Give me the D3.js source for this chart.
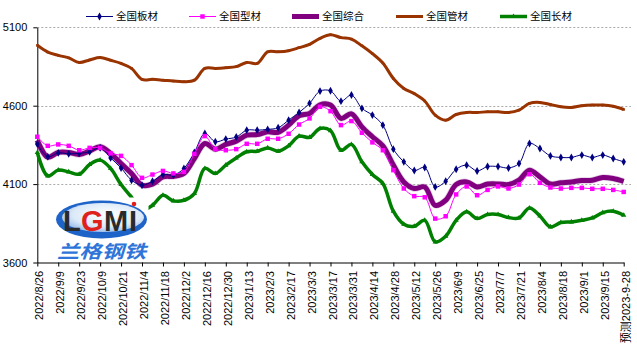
<!DOCTYPE html>
<html>
<head>
<meta charset="utf-8">
<script src="https://cdn.jsdelivr.net/npm/d3@7"></script>
<style>
  body { margin: 0; background: #fff; }
  text { font-family: "Liberation Sans", Arial, "Noto Sans CJK SC", sans-serif; }
</style>
</head>
<body>
<div id="container"></div>
<script>
let w = 637;
let h = 351;

// weekly categories, every second one is labelled
let categories = [
  "2022/8/26", "2022/9/2", "2022/9/9", "2022/9/16", "2022/9/23", "2022/9/30",
  "2022/10/9", "2022/10/14", "2022/10/21", "2022/10/28", "2022/11/4", "2022/11/11",
  "2022/11/18", "2022/11/25", "2022/12/2", "2022/12/9", "2022/12/16", "2022/12/23",
  "2022/12/30", "2023/1/6", "2023/1/13", "2023/1/20", "2023/2/3", "2023/2/10",
  "2023/2/17", "2023/2/24", "2023/3/3", "2023/3/10", "2023/3/17", "2023/3/24",
  "2023/3/31", "2023/4/7", "2023/4/14", "2023/4/21", "2023/4/28", "2023/5/5",
  "2023/5/12", "2023/5/19", "2023/5/26", "2023/6/2", "2023/6/9", "2023/6/16",
  "2023/6/25", "2023/6/30", "2023/7/7", "2023/7/14", "2023/7/21", "2023/7/28",
  "2023/8/4", "2023/8/11", "2023/8/18", "2023/8/25", "2023/9/1", "2023/9/8",
  "2023/9/15", "2023/9/22", "预测2023-9-28"
];

let banCai = [4355, 4275, 4299, 4293, 4296, 4306, 4331, 4267, 4203, 4125, 4093, 4118, 4161, 4157, 4200,
  4302, 4423, 4370, 4387, 4400, 4444, 4444, 4449, 4459, 4508, 4557, 4615, 4693, 4695, 4629,
  4668, 4583, 4540, 4476, 4323, 4242, 4187, 4206, 4082, 4118, 4195, 4221, 4184, 4212, 4212,
  4203, 4231, 4359, 4327, 4280, 4270, 4270, 4285, 4270, 4285, 4263, 4242];

let xingCai = [4402, 4344, 4353, 4344, 4316, 4331, 4331, 4296, 4280, 4221, 4140, 4161, 4184, 4168, 4178,
  4293, 4406, 4323, 4316, 4323, 4357, 4357, 4389, 4389, 4421, 4480, 4519, 4593, 4565, 4476,
  4502, 4427, 4366, 4316, 4189, 4072, 4023, 4016, 3880, 3895, 4034, 4085, 4029, 4063, 4085,
  4072, 4097, 4163, 4108, 4078, 4072, 4076, 4076, 4070, 4070, 4063, 4050];

let zongHe = [4380, 4272, 4302, 4302, 4289, 4312, 4338, 4296, 4231, 4168, 4093, 4100, 4146, 4150, 4168,
  4263, 4359, 4323, 4353, 4374, 4412, 4416, 4433, 4430, 4476, 4536, 4551, 4606, 4604, 4519,
  4548, 4465, 4402, 4344, 4221, 4114, 4072, 4082, 3965, 3997, 4097, 4114, 4082, 4100, 4101,
  4097, 4125, 4189, 4146, 4101, 4108, 4114, 4123, 4125, 4142, 4136, 4118];

let guanCai = [4985, 4942, 4921, 4905, 4876, 4892, 4907, 4890, 4870, 4838, 4768, 4768, 4763, 4757, 4753,
  4763, 4838, 4838, 4842, 4849, 4876, 4870, 4944, 4944, 4951, 4970, 4991, 5030, 5053, 5034,
  5025, 4982, 4932, 4872, 4774, 4710, 4677, 4630, 4540, 4508, 4544, 4557, 4557, 4561, 4561,
  4557, 4572, 4615, 4621, 4608, 4593, 4589, 4600, 4604, 4604, 4596, 4576];

let changCai = [4302, 4152, 4189, 4178, 4163, 4225, 4253, 4200, 4097, 4016, 3935, 3965, 4029, 3993, 3997,
  4040, 4200, 4168, 4221, 4267, 4306, 4310, 4331, 4310, 4344, 4406, 4398, 4455, 4441, 4316,
  4353, 4242, 4161, 4104, 3927, 3844, 3831, 3869, 3731, 3767, 3869, 3923, 3880, 3906, 3906,
  3887, 3884, 3948, 3897, 3827, 3855, 3859, 3869, 3884, 3918, 3927, 3901];

let yTicks = [3600, 4100, 4600, 5100];

let seriesNames = ["全国板材", "全国型材", "全国综合", "全国管材", "全国长材"];

let viz = d3.select("#container")
  .append("svg")
    .attr("width", w)
    .attr("height", h)
;

let xScale = d3.scalePoint().domain(categories).range([37.3, 623.7]);
let yScale = d3.scaleLinear().domain([3600, 5100]).range([262.5, 27.3]);

// dashed grid
viz.append("g").selectAll("line").data(yTicks.slice(1)).enter()
  .append("line")
    .attr("x1", 37.3)
    .attr("x2", 631)
    .attr("y1", function(d){ return Math.round(yScale(d)) + 0.5; })
    .attr("y2", function(d){ return Math.round(yScale(d)) + 0.5; })
    .attr("stroke", "#aaa")
    .attr("stroke-dasharray", "2,2")
;

// axes
let labelCats = categories.filter(function(d,i){ return i % 2 == 0; });
let xAxis = d3.axisBottom(xScale).tickValues(labelCats).tickSize(4).tickSizeOuter(0);
let xAxisGroup = viz.append("g").attr("class", "xaxis");
xAxisGroup.call(xAxis);
xAxisGroup.attr("transform", "translate(0,262.5)");
xAxisGroup.selectAll("text")
  .attr("transform", "rotate(-90)")
  .attr("x", -8.5)
  .attr("y", 0)
  .attr("dy", "0.5em")
  .attr("text-anchor", "end")
  .attr("font-size", "11px")
  .attr("fill", "#000")
  .attr("font-family", "'Liberation Sans', Arial, 'Noto Sans CJK SC', sans-serif")
;

let yAxis = d3.axisLeft(yScale).tickValues(yTicks).tickSize(4).tickSizeOuter(0).tickPadding(6).tickFormat(d3.format("d"));
let yAxisGroup = viz.append("g").attr("class", "yaxis");
yAxisGroup.call(yAxis);
yAxisGroup.attr("transform", "translate(37.3,0)");
yAxisGroup.selectAll("text")
  .attr("font-size", "11px")
  .attr("fill", "#000")
  .attr("font-family", "'Liberation Sans', Arial, sans-serif")
;
viz.selectAll(".domain, .tick line").attr("stroke", "#000");

// series
let series = [
  { name: seriesNames[2], values: zongHe,  color: "#800080", width: 5,   glow: true, symbol: null,               size: 0 },
  { name: seriesNames[3], values: guanCai, color: "#993300", width: 3,   glow: false, symbol: d3.symbolSquare,   size: 6 },
  { name: seriesNames[4], values: changCai,color: "#008000", width: 3.5, glow: false, symbol: d3.symbolTriangle, size: 12 },
  { name: seriesNames[0], values: banCai,  color: "#000080", width: 1,   glow: false, symbol: d3.symbolDiamond,  size: 18 },
  { name: seriesNames[1], values: xingCai, color: "#ff00ff", width: 1,   glow: false, symbol: d3.symbolSquare,   size: 20 }
];

let line = d3.line()
  .x(function(d,i){ return xScale(categories[i]); })
  .y(function(d,i){ return yScale(d); })
  .curve(d3.curveCatmullRom.alpha(0.5))
;

let vizGroups = viz.append("g").attr("class", "vizGroup");

series.forEach(function(s){
  if (s.glow) {
    vizGroups.append("path")
      .attr("d", line(s.values))
      .attr("fill", "none")
      .attr("stroke", "#a668a6")
      .attr("stroke-opacity", 0.3)
      .attr("stroke-width", s.width + 1.5)
      .attr("stroke-linejoin", "round")
    ;
  }
  vizGroups.append("path")
    .attr("d", line(s.values))
    .attr("fill", "none")
    .attr("stroke", s.color)
    .attr("stroke-width", s.width)
    .attr("stroke-linejoin", "round")
  ;
  if (s.symbol) {
    vizGroups.append("g").selectAll("path").data(s.values).enter()
      .append("path")
        .attr("d", d3.symbol().type(s.symbol).size(s.size))
        .attr("transform", function(d,i){
          return "translate(" + xScale(categories[i]) + "," + yScale(d) + ")";
        })
        .attr("fill", s.color)
    ;
  }
});

// watermark logo (white box hides lines behind it)
let logo = viz.append("g").attr("class", "logo");
let defs = viz.append("defs");
let grad = defs.append("radialGradient").attr("id", "logoGrad").attr("cx", "55%").attr("cy", "40%").attr("r", "60%");
grad.append("stop").attr("offset", "0%").attr("stop-color", "#ffffff");
grad.append("stop").attr("offset", "70%").attr("stop-color", "#dce9f8");
grad.append("stop").attr("offset", "100%").attr("stop-color", "#9fc0ea");

logo.append("rect")
  .attr("x", 53).attr("y", 197.5).attr("width", 95.5).attr("height", 64)
  .attr("fill", "#fff")
;
logo.append("ellipse")
  .attr("cx", 101.5).attr("cy", 219.5).attr("rx", 45.5).attr("ry", 19)
  .attr("fill", "#1e63c8")
;
logo.append("ellipse")
  .attr("cx", 103).attr("cy", 217.5).attr("rx", 41).attr("ry", 14.5)
  .attr("fill", "url(#logoGrad)")
;
let logoLetters = [
  { t: "L", x: 63,  c: "#2a2a2a" },
  { t: "G", x: 81,  c: "#e0201c" },
  { t: "M", x: 104, c: "#2a2a2a" },
  { t: "I", x: 129, c: "#2a2a2a" }
];
logo.selectAll(".logoLetter").data(logoLetters).enter()
  .append("text")
    .attr("class", "logoLetter")
    .attr("x", function(d){ return d.x; })
    .attr("y", 231)
    .attr("font-size", "29px")
    .attr("font-weight", "bold")
    .attr("fill", function(d){ return d.c; })
    .text(function(d){ return d.t; })
;
logo.append("circle").attr("cx", 134).attr("cy", 204).attr("r", 2.3).attr("fill", "#e0201c");
logo.append("text")
  .attr("x", 57)
  .attr("y", 258)
  .attr("font-size", "18px")
  .attr("font-weight", "bold")
  .attr("font-style", "italic")
  .attr("font-family", "'Noto Sans CJK SC', sans-serif")
  .attr("textLength", 89)
  .attr("lengthAdjust", "spacingAndGlyphs")
  .attr("fill", "#2f74d8")
  .text("兰格钢铁")
;

// legend
let legendItems = [
  { name: seriesNames[0], color: "#000080", width: 1,   symbol: d3.symbolDiamond,  size: 18, x: 86 },
  { name: seriesNames[1], color: "#ff00ff", width: 1,   symbol: d3.symbolSquare,   size: 20, x: 189 },
  { name: seriesNames[2], color: "#800080", width: 5,   symbol: null,              size: 0,  x: 292 },
  { name: seriesNames[3], color: "#993300", width: 3,   symbol: d3.symbolSquare,   size: 6,  x: 396 },
  { name: seriesNames[4], color: "#008000", width: 3.5, symbol: d3.symbolTriangle, size: 12, x: 500 }
];

let legend = viz.append("g").attr("class", "legend");
let legendGroups = legend.selectAll("g").data(legendItems).enter()
  .append("g")
    .attr("transform", function(d){ return "translate(" + d.x + ",16.5)"; })
;
legendGroups.append("line")
  .attr("x1", 0).attr("x2", 27).attr("y1", 0).attr("y2", 0)
  .attr("stroke", function(d){ return d.color; })
  .attr("stroke-width", function(d){ return d.width; })
;
legendGroups.filter(function(d){ return d.symbol; }).append("path")
  .attr("d", function(d){ return d3.symbol().type(d.symbol).size(d.size)(); })
  .attr("transform", "translate(13.5,0)")
  .attr("fill", function(d){ return d.color; })
;
legendGroups.append("text")
  .text(function(d){ return d.name; })
  .attr("x", 30)
  .attr("y", 0)
  .attr("dy", "0.36em")
  .attr("font-size", "10.5px")
  .attr("font-family", "'Noto Sans CJK SC', sans-serif")
  .attr("fill", "#000")
;
</script>
</body>
</html>
